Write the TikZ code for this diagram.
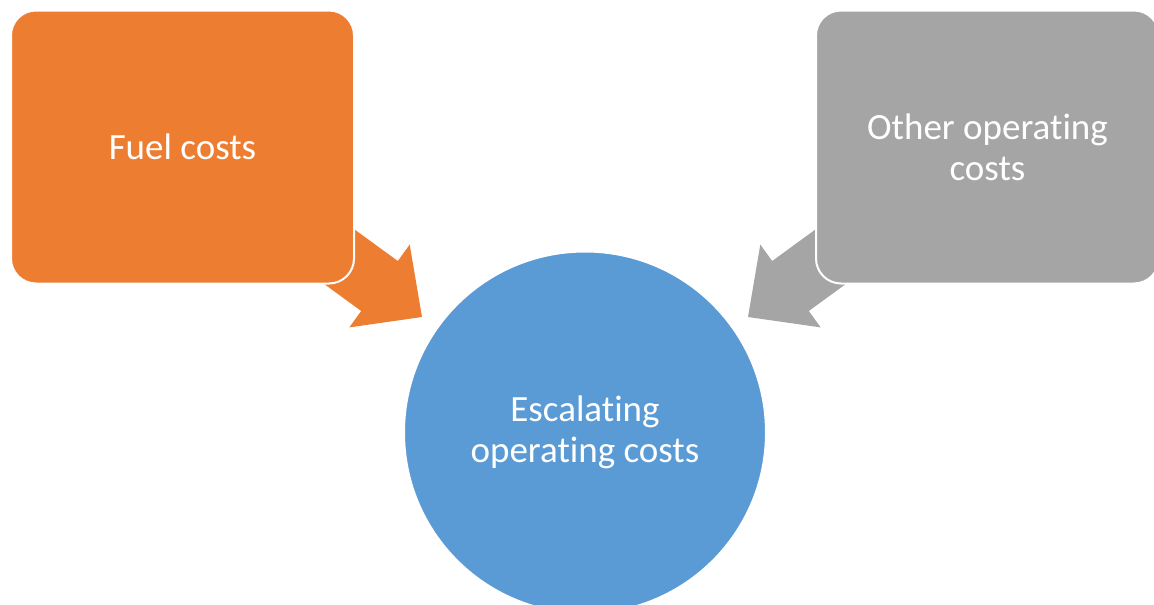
\documentclass[tikz,border=0pt]{standalone}
\usepackage{fontspec}
\setmainfont[Ligatures={NoCommon,NoContextual},Contextuals=NoAlternate]{Carlito}
\definecolor{fuelorange}{HTML}{ED7D31}
\definecolor{othergray}{HTML}{A5A5A5}
\definecolor{costblue}{HTML}{5B9BD5}
\begin{document}
\begin{tikzpicture}[x=1pt,y=-1pt,
  costbox/.style={rectangle, rounded corners=25pt, draw=white, line width=2pt,
    minimum width=343pt, minimum height=273pt, text=white, align=center,
    font=\fontsize{37}{41}\selectfont},
  costcircle/.style={circle, draw=white, line width=2pt, fill=costblue,
    minimum size=362pt, text=white, align=center,
    font=\fontsize{37}{41}\selectfont}]
\useasboundingbox (0,0) rectangle (1154,605);
\clip (0,0) rectangle (1154,605);

% block arrows, drawn first so the boxes cover their tails
\fill[fuelorange] (280.4,252.1) -- (317,202.1) -- (397.8,261) -- (409.7,244.6)
  -- (422,317) -- (349.3,327.4) -- (361.2,311) -- cycle;
\fill[othergray] (889.6,252.1) -- (853,202.1) -- (772.2,261) -- (760.3,244.6)
  -- (748,317) -- (820.7,327.4) -- (808.8,311) -- cycle;

\node[costbox, fill=fuelorange] (fuel) at (182.5,147) {Fuel costs};
\node[costbox, fill=othergray] (other) at (987.5,147) {Other operat\kern0pt ing\\costs};
\node[costcircle] (esc) at (585,432.5) {Escalat\kern0pt ing\\operat\kern0pt ing costs};
\end{tikzpicture}
\end{document}
